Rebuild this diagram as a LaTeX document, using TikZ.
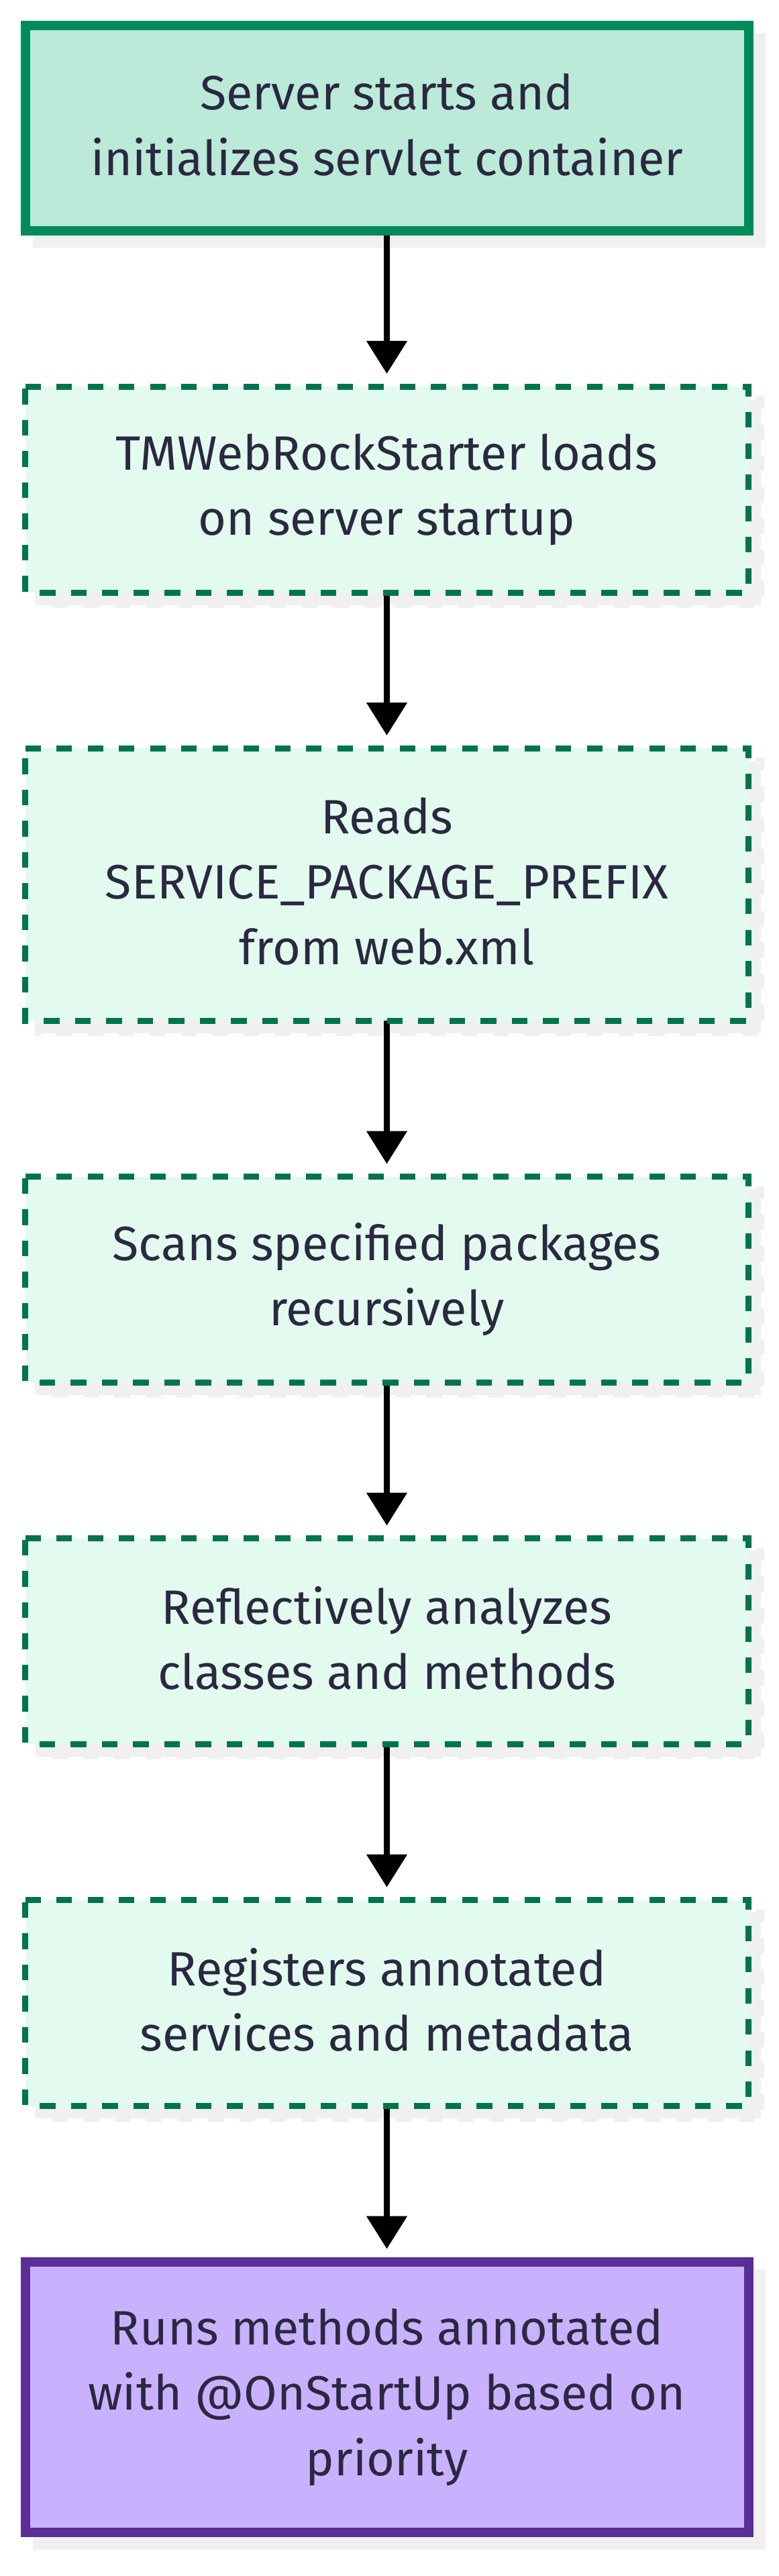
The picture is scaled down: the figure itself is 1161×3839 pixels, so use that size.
\documentclass[tikz,border=0pt]{standalone}
\usepackage{fontspec}
\newfontfamily\boxfont{Fira Sans}
\usetikzlibrary{arrows.meta,backgrounds}
\definecolor{startfill}{HTML}{BBEAD8}
\definecolor{startline}{HTML}{008B5A}
\definecolor{stepfill}{HTML}{E3FBEF}
\definecolor{stepline}{HTML}{00744E}
\definecolor{endfill}{HTML}{C9B2FD}
\definecolor{endline}{HTML}{5B2D96}
\definecolor{shadowc}{HTML}{F0F0F0}
\definecolor{txtc}{HTML}{2B2841}
\newlength\reflen
\newcommand\boxtext[1]{\rule{0pt}{53pt}#1\rule[-10pt]{0pt}{10pt}}
\AtBeginDocument{%
  \settowidth\reflen{\boxfont\fontsize{10pt}{12pt}\selectfont initializes servlet container}%
  \pgfmathsetmacro\fsz{10*883/\reflen}%
}
\begin{document}
\begin{tikzpicture}[x=1pt,y=1pt]
\tikzset{
  flowbox/.style={rectangle, inner sep=0pt, outer sep=0pt, minimum width=1078pt,
    align=center, text=txtc, font=\boxfont\fontsize{\fsz pt}{97.5pt}\selectfont},
  startbox/.style={flowbox, fill=startfill, draw=startline, line width=14pt},
  endbox/.style={flowbox, fill=endfill, draw=endline, line width=14pt},
  stepbox/.style={flowbox, fill=stepfill},
  dashpat/.style={dash pattern=on 23.25pt off 23.25pt},
  stepborder/.style={draw=stepline, line width=9pt, dashpat},
  dashshadow/.style={draw=shadowc, fill=shadowc, line width=9pt, dashpat},
  flowarrow/.style={-{Triangle[width=59pt,length=49pt]}, line width=8.5pt, shorten >=19pt, black}
}
\useasboundingbox (0,0) rectangle (1161,-3839);

\node[startbox, minimum height=306pt] (n1) at (576.5,-190.5)
  {\boxtext{Server starts and\\initializes servlet container}};
\node[stepbox, minimum height=307pt] (n2) at (576.5,-729.5)
  {\boxtext{TMWebRockStarter loads\\on server startup}};
\node[stepbox, minimum height=406pt] (n3) at (576.5,-1318)
  {\boxtext{Reads\\SERVICE\_PACKAGE\_PREFIX\\from web.xml}};
\node[stepbox, minimum height=306.5pt] (n4) at (576.5,-1906.75)
  {\boxtext{Scans specified packages\\recursively}};
\node[stepbox, minimum height=306.5pt] (n5) at (576.5,-2445.75)
  {\boxtext{Reflectively analyzes\\classes and methods}};
\node[stepbox, minimum height=307pt] (n6) at (576.5,-2985)
  {\boxtext{Registers annotated\\services and metadata}};
\node[endbox, minimum height=403.5pt] (n7) at (576.5,-3572.25)
  {\boxtext{Runs methods annotated\\with @OnStartUp based on\\priority}};

\begin{pgfonlayer}{background}
  \fill[white] (0,0) rectangle (1161,-3839);
  \foreach \n in {n1,n7} {
    \fill[shadowc] ([shift={(11.5,-11.5)}]\n.north west) rectangle ([shift={(25.5,-25.5)}]\n.south east);
  }
  \foreach \n in {n2,n3,n4,n5,n6} {
    \path[dashshadow] ([shift={(18.5,-18.5)}]\n.north west) -- ([shift={(18.5,-18.5)}]\n.north east)
      -- ([shift={(18.5,-18.5)}]\n.south east) -- ([shift={(18.5,-18.5)}]\n.south west) -- cycle;
  }
  \draw[flowarrow] (n1) -- (n2);
  \draw[flowarrow] (n2) -- (n3);
  \draw[flowarrow] (n3) -- (n4);
  \draw[flowarrow] (n4) -- (n5);
  \draw[flowarrow] (n5) -- (n6);
  \draw[flowarrow] (n6) -- (n7);
\end{pgfonlayer}

\foreach \n in {n2,n3,n4,n5,n6} {
  \path[stepborder] (\n.north west) -- (\n.north east) -- (\n.south east) -- (\n.south west) -- cycle;
}
\end{tikzpicture}
\end{document}
